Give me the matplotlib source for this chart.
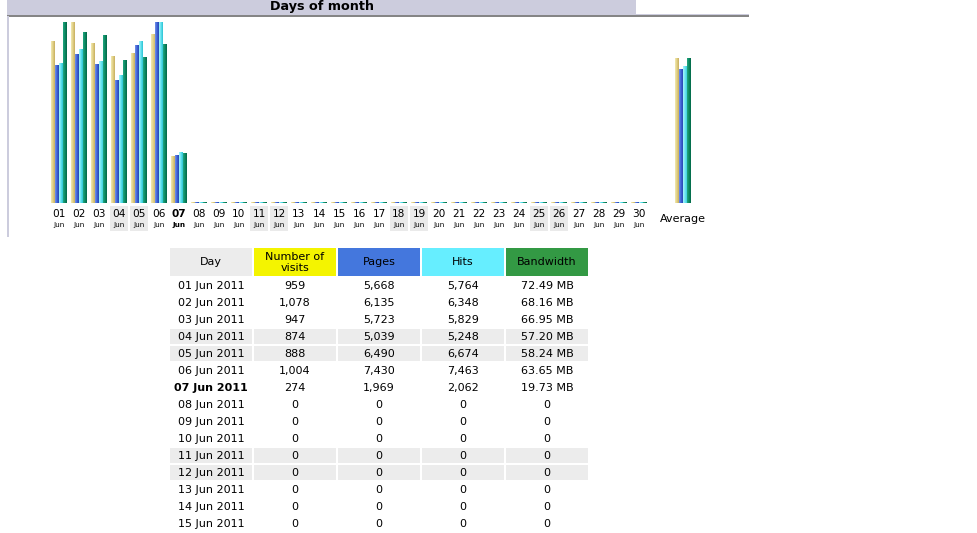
import numpy as np
import matplotlib
matplotlib.use("Agg")
import matplotlib.pyplot as plt
from matplotlib.patches import Rectangle
from matplotlib.colors import LinearSegmentedColormap
import matplotlib.transforms as mtransforms

# ---------------- data ----------------
title = "Days of month"
month_label = "Jun"
year = 2011
days = list(range(1, 31))
visits = [959, 1078, 947, 874, 888, 1004, 274, 0, 0, 0, 0, 0, 0, 0, 0,
          0, 0, 0, 0, 0, 0, 0, 0, 0, 0, 0, 0, 0, 0, 0]
pages = [5668, 6135, 5723, 5039, 6490, 7430, 1969, 0, 0, 0, 0, 0, 0, 0, 0,
         0, 0, 0, 0, 0, 0, 0, 0, 0, 0, 0, 0, 0, 0, 0]
hits = [5764, 6348, 5829, 5248, 6674, 7463, 2062, 0, 0, 0, 0, 0, 0, 0, 0,
        0, 0, 0, 0, 0, 0, 0, 0, 0, 0, 0, 0, 0, 0, 0]
bandwidth_mb = [72.49, 68.16, 66.95, 57.20, 58.24, 63.65, 19.73, 0, 0, 0, 0, 0, 0, 0, 0,
                0, 0, 0, 0, 0, 0, 0, 0, 0, 0, 0, 0, 0, 0, 0]
weekend_days = [4, 5, 11, 12, 18, 19, 25, 26]
today = 7
table_headers = ["Day", "Number of\nvisits", "Pages", "Hits", "Bandwidth"]
rows_shown = 15

# ---------------- styles ----------------
W, H = 978, 533
header_colors = ["#ececec", "#f4f400", "#4477dd", "#66eeff", "#339944"]
grad_colors = [
    ["#f2e9b0", "#e0cf84", "#c8b060"],   # visits
    ["#7192ea", "#4163d6", "#2747b4"],   # pages
    ["#a6f5fb", "#62e3f0", "#2cc2d3"],   # hits
    ["#23a680", "#0b8a62", "#046848"],   # bandwidth
]
lav = "#ccccdd"
font = "DejaVu Sans"

fig = plt.figure(figsize=(W / 100, H / 100), dpi=100)
page = fig.add_axes([0, 0, 1, 1])
page.set_xlim(0, W)
page.set_ylim(H, 0)
page.axis("off")

# header band
page.add_patch(Rectangle((7, 0), 629, 15, color=lav, lw=0))
page.add_patch(Rectangle((636, 14), 113, 1.4, color=lav, lw=0))
page.add_patch(Rectangle((7, 15.3), 742, 1.4, color="#858585", lw=0))
page.add_patch(Rectangle((7, 16), 2, 221, color=lav, lw=0))
page.text(321.5, 6.5, title, ha="center", va="center", fontsize=9.2,
          fontweight="bold", family=font, color="#000000")

# ---------------- bar chart ----------------
ax_l, ax_r, ax_t, ax_b = 49, 699, 22, 203
ax = fig.add_axes([ax_l / W, (H - ax_b) / H, (ax_r - ax_l) / W, (ax_b - ax_t) / H])
ax.patch.set_alpha(0)
ax.axis("off")

n_el = today
avg_vals = [np.mean(visits[:n_el]), np.mean(pages[:n_el]),
            np.mean(hits[:n_el]), np.mean(bandwidth_mb[:n_el])]
scales = [max(visits), max(hits), max(hits), max(bandwidth_mb)]
series = [visits, pages, hits, bandwidth_mb]
min_h = 1.0 / (ax_b - ax_t)
x = np.array(days, dtype=float)
avg_x = 32.2
offsets = [-0.3, -0.1, 0.1, 0.3]
bw = 0.2
grad = np.linspace(0, 1, 16).reshape(1, -1)

for s, vals in enumerate(series):
    cmap = LinearSegmentedColormap.from_list(f"g{s}", grad_colors[s])
    xs = np.append(x, avg_x) + offsets[s]
    hs = np.maximum(np.append(np.array(vals, float), avg_vals[s]) / scales[s], min_h)
    bars = ax.bar(xs, hs, width=bw, color="none", linewidth=0)
    for p in bars.patches:
        x0, w, h = p.get_x(), p.get_width(), p.get_height()
        ax.imshow(grad, cmap=cmap, extent=(x0, x0 + w, 0, h), aspect="auto",
                  interpolation="bilinear", zorder=2)

ax.set_xlim(0.5, 33)
ax.set_ylim(0, 1)

# x labels
trans = mtransforms.blended_transform_factory(ax.transData, page.transData)
for d in days:
    if d in weekend_days:
        page.add_patch(Rectangle((d - 0.45, 206), 0.9, 25, transform=trans,
                                 color="#eaeaea", lw=0))
    wgt = "bold" if d == today else "normal"
    page.text(d, 214, f"{d:02d}", transform=trans, ha="center", va="center",
              fontsize=7.6, fontweight=wgt, family=font)
    page.text(d, 225.5, month_label, transform=trans, ha="center", va="center",
              fontsize=5.2, fontweight=wgt, family=font)
page.text(avg_x, 219, "Average", transform=trans, ha="center", va="center",
          fontsize=8, family=font)

# ---------------- table ----------------
col_x = [170 + 84 * j for j in range(5)]
col_w = 82
hdr_top, hdr_h = 248, 27.7
for j, lab in enumerate(table_headers):
    page.add_patch(Rectangle((col_x[j], hdr_top), col_w, hdr_h,
                             color=header_colors[j], lw=0))
    page.text(col_x[j] + col_w / 2, hdr_top + hdr_h / 2 + 0.3, lab, ha="center",
              va="center", fontsize=8, family=font, linespacing=1.1)

row_top0, row_pitch, row_h = 278.3, 17, 15
for i in range(rows_shown):
    d = days[i]
    top = row_top0 + row_pitch * i
    if d in weekend_days:
        for j in range(5):
            page.add_patch(Rectangle((col_x[j], top), col_w, row_h,
                                     color="#ececec", lw=0))
    bwv = bandwidth_mb[i]
    cells = [f"{d:02d} {month_label} {year}", f"{visits[i]:,}", f"{pages[i]:,}",
             f"{hits[i]:,}", f"{bwv:.2f} MB" if bwv else "0"]
    yc = top + row_h / 2
    for j, c in enumerate(cells):
        wgt = "bold" if (j == 0 and d == today) else "normal"
        page.text(col_x[j] + col_w / 2, yc, c, ha="center", va="center",
                  fontsize=8, family=font, fontweight=wgt)

fig.savefig("out.png", dpi=100)
